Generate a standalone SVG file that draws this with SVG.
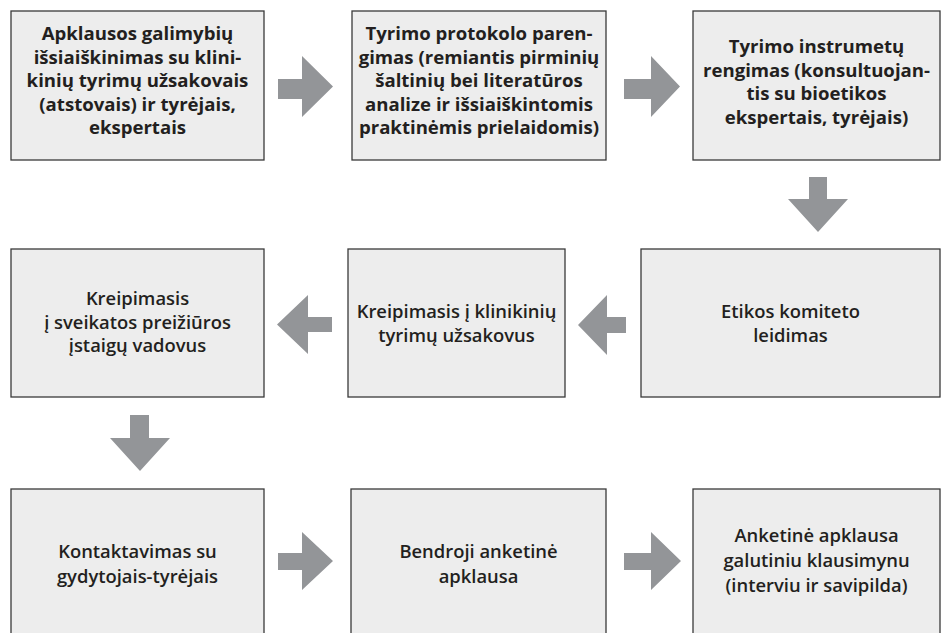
<svg xmlns="http://www.w3.org/2000/svg" width="942" height="633" viewBox="0 0 942 633">
<style>
.box{fill:#ededed;stroke:#3a3a3a;stroke-width:1.3}
.arr{fill:#939598}
text{font-family:"Open Sans","Liberation Sans",sans-serif;fill:#231f20;text-anchor:middle}
.b{font-weight:700;font-size:18.6px}
.s{font-weight:600;font-size:18.4px}
</style>
<rect width="942" height="633" fill="#ffffff"/>
<g id="connectors">
<polygon class="arr" points="278,79 302,79 302,56 333,86.5 302,117 302,99 278,99"/>
<polygon class="arr" points="624,79 651,79 651,56 680,86.5 651,117 651,99 624,99"/>
<polygon class="arr" points="809,177 827,177 827,199 848,199 818,232 788,199 809,199"/>
<polygon class="arr" points="626,317 607,317 607,295 578,325 607,355 607,333 626,333"/>
<polygon class="arr" points="332,317 308,317 308,295 277,324.5 308,354 308,332 332,332"/>
<polygon class="arr" points="130,415 149,415 149,438 170,438 140,471 110,438 130,438"/>
<polygon class="arr" points="278,553 302,553 302,532 333,561 302,590 302,570 278,570"/>
<polygon class="arr" points="624,553 651,553 651,532 681,561 651,590 651,570 624,570"/>
</g>
<g id="n1">
<rect class="box" x="11" y="11" width="253" height="149"/>
<text class="b" x="137.5" y="40">Apklausos galimybių</text>
<text class="b" x="137.5" y="63.5">išsiaiškinimas su klini-</text>
<text class="b" x="137.5" y="87">kinių tyrimų užsakovais</text>
<text class="b" x="137.5" y="110.5">(atstovais) ir tyrėjais,</text>
<text class="b" x="137.5" y="134">ekspertais</text>
</g>
<g id="n2">
<rect class="box" x="352" y="11" width="254" height="149"/>
<text class="b" x="479" y="40">Tyrimo protokolo paren-</text>
<text class="b" x="479" y="63.5">gimas (remiantis pirminių</text>
<text class="b" x="479" y="87">šaltinių bei literatūros</text>
<text class="b" x="479" y="110.5">analize ir išsiaiškintomis</text>
<text class="b" x="479" y="134">praktinėmis prielaidomis)</text>
</g>
<g id="n3">
<rect class="box" x="693" y="11" width="247" height="149"/>
<text class="b" x="816.5" y="53">Tyrimo instrumetų</text>
<text class="b" x="816.5" y="76.5">rengimas (konsultuojan-</text>
<text class="b" x="816.5" y="100">tis su bioetikos</text>
<text class="b" x="816.5" y="123.5">ekspertais, tyrėjais)</text>
</g>
<g id="n4">
<rect class="box" x="641" y="249" width="299" height="148"/>
<text class="s" x="790.5" y="318">Etikos komiteto</text>
<text class="s" x="790.5" y="342">leidimas</text>
</g>
<g id="n5">
<rect class="box" x="348" y="249" width="217" height="148"/>
<text class="s" x="456.5" y="318">Kreipimasis į klinikinių</text>
<text class="s" x="456.5" y="342">tyrimų užsakovus</text>
</g>
<g id="n6">
<rect class="box" x="11" y="249" width="253" height="148"/>
<text class="s" x="137.5" y="305">Kreipimasis</text>
<text class="s" x="137.5" y="328.5">į sveikatos preižiūros</text>
<text class="s" x="137.5" y="352">įstaigų vadovus</text>
</g>
<g id="n7">
<rect class="box" x="11" y="489" width="253" height="160"/>
<text class="s" x="137.5" y="558">Kontaktavimas su</text>
<text class="s" x="137.5" y="583">gydytojais-tyrėjais</text>
</g>
<g id="n8">
<rect class="box" x="351" y="489" width="255" height="160"/>
<text class="s" x="478.5" y="558">Bendroji anketinė</text>
<text class="s" x="478.5" y="583">apklausa</text>
</g>
<g id="n9">
<rect class="box" x="693" y="489" width="247" height="160"/>
<text class="s" x="816.5" y="542">Anketinė apklausa</text>
<text class="s" x="816.5" y="567">galutiniu klausimynu</text>
<text class="s" x="816.5" y="592">(interviu ir savipilda)</text>
</g>
</svg>
